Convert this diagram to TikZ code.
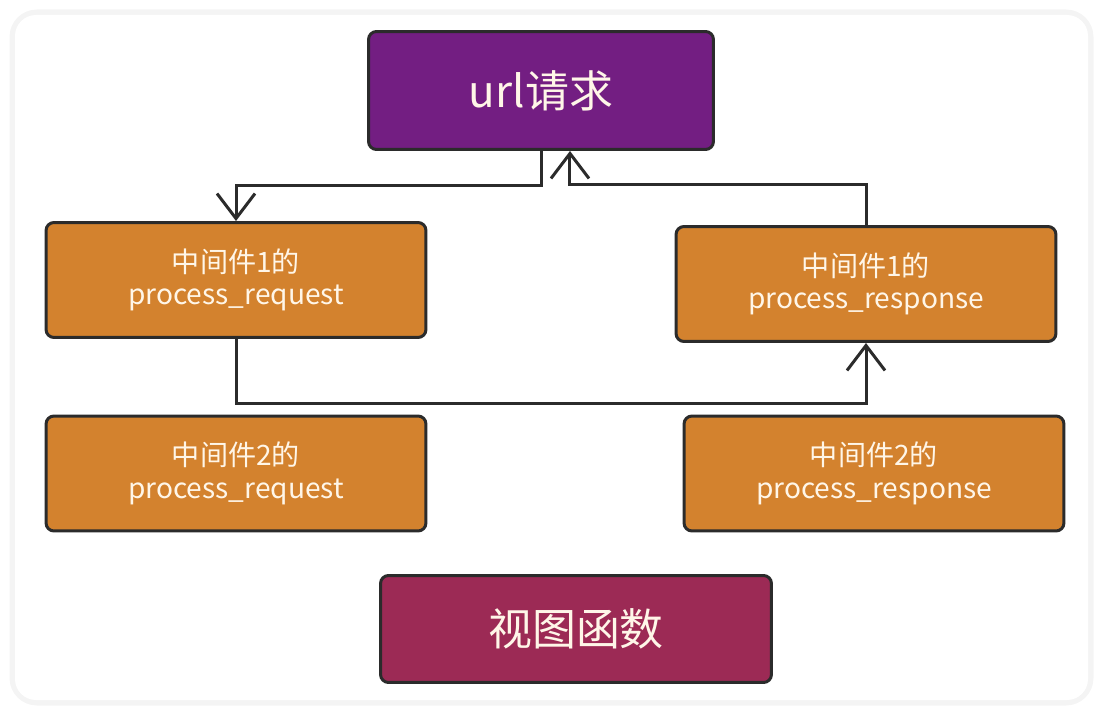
\documentclass[tikz,border=0pt]{standalone}
\usepackage{fontspec}
\usepackage{tikz}
\usetikzlibrary{arrows.meta}
\newfontfamily\cjk{Noto Sans CJK SC}
\definecolor{urlpurple}{HTML}{731E82}
\definecolor{mworange}{HTML}{D3822E}
\definecolor{viewred}{HTML}{9C2A55}
\definecolor{edge}{HTML}{2B2B2B}
\definecolor{cream}{HTML}{FFF6E8}
\tikzset{
	box/.style={
		shape = rectangle,
		draw = edge,
		line width = 0.06cm,
		rounded corners = 0.16cm,
		text = cream,
		align = center,
		inner sep = 0pt
	},
	mw/.style={
		box,
		fill = mworange,
		minimum width = 7.6cm,
		minimum height = 2.3cm,
		font = \cjk\fontsize{16}{18.5}\selectfont
	},
	big/.style={
		box,
		font = \cjk\fontsize{25}{30}\selectfont
	},
	flow/.style={
		draw = edge,
		line width = 0.06cm,
		-{Straight Barb[length=0.5cm, width=0.76cm]}
	},
}

\begin{document}
\begin{tikzpicture}[x=0.02cm, y=-0.02cm]
    \useasboundingbox (0,0) rectangle (1103,716);
    \draw[gray!9, line width=0.14cm, rounded corners=0.48cm] (13,13) rectangle (1090,702);
    \fill[white, rounded corners=0.42cm] (15,15) rectangle (1088,700);
    \node[big, fill=urlpurple, minimum width=6.9cm, minimum height=2.36cm] (url) at (541,90.5) {url请求};
    \node[mw] (req1) at (236,280) {中间件1的\\process\_request};
    \node[mw] (resp1) at (866,284) {中间件1的\\process\_response};
    \node[mw] (req2) at (236,473.5) {中间件2的\\process\_request};
    \node[mw] (resp2) at (874,473.5) {中间件2的\\process\_response};
    \node[big, fill=viewred, minimum width=7.82cm, minimum height=2.14cm] (view) at (576,629) {视图函数};
    \draw[flow] (url.south) -- ++(0,35) -| (req1.north);
    \draw[flow] (resp1.north) -- ++(0,-41) -| ([xshift=0.58cm]url.south);
    \draw[flow] (req1.south) -- ++(0,65) -| (resp1.south);
\end{tikzpicture}
\end{document}
